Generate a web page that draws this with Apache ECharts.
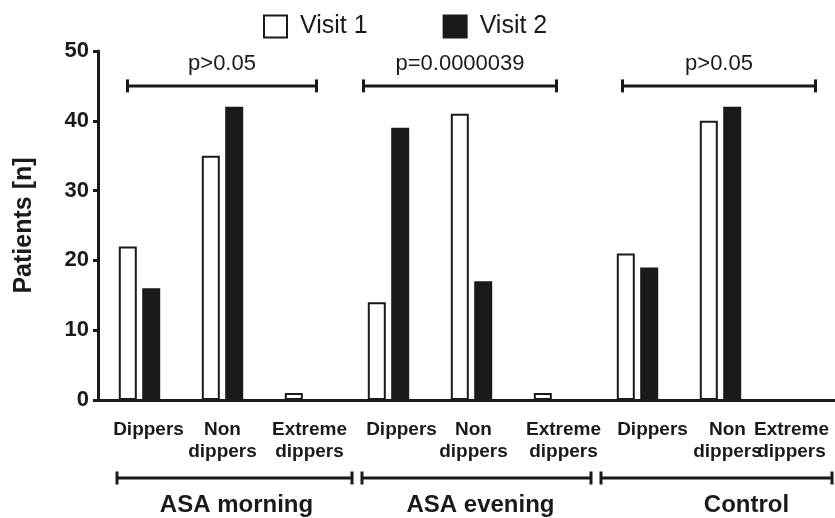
<!DOCTYPE html>
<html>
<head>
<meta charset="utf-8">
<script src="https://cdn.jsdelivr.net/npm/echarts@6/dist/echarts.min.js"></script>
<style>html,body{margin:0;padding:0;background:#fff}#c{width:835px;height:518px}</style>
</head>
<body>
<div id="c"></div>
<script>
// ---- data ----
const categories = ['Dippers', 'Non\ndippers', 'Extreme\ndippers',
                    'Dippers', 'Non\ndippers', 'Extreme\ndippers',
                    'Dippers', 'Non\ndippers', 'Extreme\ndippers'];
const visit1 = [22, 35, 1, 14, 41, 1, 21, 40, 0];
const visit2 = [16, 42, 0, 39, 17, 0, 19, 42, 0];
const seriesNames = ['Visit 1', 'Visit 2'];
const yTicks = [0, 10, 20, 30, 40, 50];
const groups = ['ASA morning', 'ASA evening', 'Control'];
const groupRanges = [[0, 2], [3, 5], [6, 8]];
const pLabels = ['p>0.05', 'p=0.0000039', 'p>0.05'];
const pBracketLevel = 45;

// ---- styling (pixel offsets, not data) ----
const INK = '#1a1a1a';
const FONT = 'Liberation Sans, Arial, Helvetica, sans-serif';
const labelShift = [9, 0, 4, 13, 2, 9, 15, 7, -12];
const topPad = [[12, 11], [25, 2], [15, 12]];
const groupPad = [[19, -5], [15, 5], [5, 13]];
const groupLabelShift = [2, 4, 30];

const xData = categories.map((c, i) => {
  const s = labelShift[i];
  return {
    value: c,
    textStyle: { padding: s >= 0 ? [0, 0, 0, 2 * s] : [0, -2 * s, 0, 0] }
  };
});

const chart = echarts.init(document.getElementById('c'), null, { renderer: 'canvas' });

function topBracket(params, api) {
  const i = params.dataIndex;
  const a = api.coord([api.value(0), api.value(2)]);
  const b = api.coord([api.value(1), api.value(2)]);
  const x1 = a[0] - topPad[i][0], x2 = b[0] + topPad[i][1], y = a[1];
  const ls = { stroke: INK, lineWidth: 3 };
  return {
    type: 'group',
    children: [
      { type: 'line', shape: { x1: x1, y1: y, x2: x2, y2: y }, style: ls },
      { type: 'line', shape: { x1: x1, y1: y - 6.5, x2: x1, y2: y + 6.5 }, style: ls },
      { type: 'line', shape: { x1: x2, y1: y - 6.5, x2: x2, y2: y + 6.5 }, style: ls },
      { type: 'text', style: { text: pLabels[i], x: (x1 + x2) / 2, y: y - 22,
          align: 'center', verticalAlign: 'middle', fill: INK,
          font: '22px ' + FONT } }
    ]
  };
}

function groupBracket(params, api) {
  const i = params.dataIndex;
  const band = api.size([1, 0])[0];
  const a = api.coord([api.value(0), 0]);
  const b = api.coord([api.value(1), 0]);
  const x1 = a[0] - band / 2 + groupPad[i][0];
  const x2 = b[0] + band / 2 - groupPad[i][1];
  const y = a[1] + 78;
  const ls = { stroke: INK, lineWidth: 3 };
  return {
    type: 'group',
    children: [
      { type: 'line', shape: { x1: x1, y1: y, x2: x2, y2: y }, style: ls },
      { type: 'line', shape: { x1: x1, y1: y - 6.5, x2: x1, y2: y + 6.5 }, style: ls },
      { type: 'line', shape: { x1: x2, y1: y - 6.5, x2: x2, y2: y + 6.5 }, style: ls },
      { type: 'text', style: { text: groups[i], x: (x1 + x2) / 2 + groupLabelShift[i], y: y + 27,
          align: 'center', verticalAlign: 'middle', fill: INK,
          font: 'bold 24px ' + FONT } }
    ]
  };
}

const option = {
  animation: false,
  backgroundColor: '#fff',
  textStyle: { fontFamily: FONT },
  legend: {
    data: [
      { name: seriesNames[0], itemStyle: { color: '#fff', borderColor: INK, borderWidth: 2 } },
      { name: seriesNames[1], itemStyle: { color: INK } }
    ],
    left: 258, top: 9,
    icon: 'rect', itemWidth: 23, itemHeight: 22, itemGap: 75,
    textStyle: { fontSize: 25, color: INK, fontFamily: FONT, padding: [0, 0, 0, 8] }
  },
  grid: { left: 98, top: 51, bottom: 118, right: -10, containLabel: false, outerBoundsMode: 'none' },
  xAxis: {
    type: 'category',
    data: xData,
    axisLine: { lineStyle: { color: INK, width: 3 } },
    axisTick: { alignWithLabel: true, length: 7, lineStyle: { color: INK, width: 3 } },
    axisLabel: { interval: 0, color: INK, fontSize: 19, fontWeight: 'bold', lineHeight: 22, margin: 19, fontFamily: FONT }
  },
  yAxis: {
    type: 'value', min: yTicks[0], max: yTicks[yTicks.length - 1], interval: yTicks[1] - yTicks[0],
    name: 'Patients [n]', nameLocation: 'middle', nameRotate: 90, nameGap: 61, nameMoveOverlap: false,
    nameTextStyle: { fontSize: 25, fontWeight: 'bold', color: INK, fontFamily: FONT },
    axisLine: { show: true, lineStyle: { color: INK, width: 3 } },
    axisTick: { show: true, length: 5, lineStyle: { color: INK, width: 3 } },
    axisLabel: { color: INK, fontSize: 22, fontWeight: 'bold', margin: 9, fontFamily: FONT },
    splitLine: { show: false }
  },
  series: [
    { name: seriesNames[0], type: 'bar', data: visit1, barWidth: 18, barGap: '30%',
      itemStyle: { color: '#fff', borderColor: INK, borderWidth: 2 } },
    { name: seriesNames[1], type: 'bar', data: visit2, barWidth: 18,
      itemStyle: { color: INK, borderColor: INK, borderWidth: 2 } },
    { type: 'custom', name: 'p', renderItem: topBracket, clip: false, silent: true, z: 5,
      data: groupRanges.map(r => [r[0], r[1], pBracketLevel]) },
    { type: 'custom', name: 'groups', renderItem: groupBracket, clip: false, silent: true, z: 5,
      data: groupRanges.map(r => [r[0], r[1], 0]) }
  ]
};
chart.setOption(option);
</script>
</body>
</html>
